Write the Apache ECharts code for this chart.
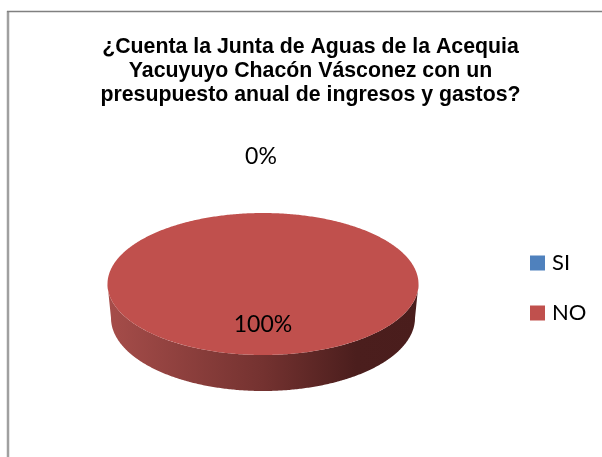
<!DOCTYPE html>
<html><head><meta charset="utf-8">
<style>html,body{margin:0;padding:0;background:#fff}#c{width:602px;height:457px}</style>
<script src="https://cdn.jsdelivr.net/npm/echarts@6/dist/echarts.min.js"></script>
</head><body><div id="c"></div>
<script>
const categories = ['SI', 'NO'];
const values = [0, 100];
const colors = ['#4f81bd', '#c0504d'];
const titleLines = ['¿Cuenta la Junta de Aguas de la Acequia', 'Yacuyuyo Chacón Vásconez con un', 'presupuesto anual de ingresos y gastos?'];

const total = values.reduce((a, b) => a + b, 0);
const CX = 263, CY = 284, RX = 155.5, RY = 71;
const BCY = 318, BRX = 152, BRY = 73;
const LABEL_FONT = '23px Lato, "Open Sans", sans-serif';

function pt(a, cx, cy, rx, ry) { return [cx + rx * Math.sin(a), cy - ry * Math.cos(a)]; }
function arc(a0, a1, cx, cy, rx, ry) {
  const n = Math.max(2, Math.ceil(Math.abs(a1 - a0) / 0.01)), out = [];
  for (let i = 0; i <= n; i++) out.push(pt(a0 + (a1 - a0) * i / n, cx, cy, rx, ry));
  return out;
}
function renderSlice(index) {
  return function () {
    const before = values.slice(0, index).reduce((a, b) => a + b, 0);
    const a0 = before / total * 2 * Math.PI;
    const a1 = (before + values[index]) / total * 2 * Math.PI;
    const mid = (a0 + a1) / 2;
    const pct = Math.round(values[index] / total * 100) + '%';
    const children = [];
    if (a1 > a0) {
      const s = Math.max(a0, Math.PI / 2), e = Math.min(a1, Math.PI * 3 / 2);
      if (e > s) {
        const pts = arc(s, e, CX, CY, RX, RY).concat(arc(e, s, CX, BCY, BRX, BRY));
        children.push({ type: 'polygon', shape: { points: pts }, style: {
          fill: new echarts.graphic.LinearGradient(0, 0, 1, 0, [
            { offset: 0, color: '#a64d4a' }, { offset: 0.5, color: '#743230' },
            { offset: 0.8, color: '#4b1e1d' }, { offset: 1, color: '#4a1d1c' }]) } });
      }
      const face = arc(a0, a1, CX, CY, RX, RY);
      if (a1 - a0 < 2 * Math.PI) face.push([CX, CY]);
      children.push({ type: 'polygon', shape: { points: face }, style: { fill: colors[index] } });
    }
    const inside = values[index] / total > 0.05;
    const p = inside ? pt(mid, CX, CY, RX * 0.55, RY * 0.57) : pt(mid, CX - 2, CY, RX, RY * 1.8);
    children.push({ type: 'text', z2: 10, style: { x: p[0], y: p[1], text: pct, font: LABEL_FONT,
      fill: '#000', align: 'center', verticalAlign: 'middle' } });
    return { type: 'group', children };
  };
}

const chart = echarts.init(document.getElementById('c'), null, { renderer: 'canvas' });
chart.setOption({
  animation: false,
  backgroundColor: '#fff',
  title: {
    text: titleLines.join('\n'), left: 305.5, top: 30, textAlign: 'center',
    textStyle: { fontFamily: '"Liberation Sans", Arial, sans-serif', fontWeight: 'bold', fontSize: 21.3, lineHeight: 24, color: '#000' }
  },
  legend: {
    data: categories, orient: 'vertical', left: 525, top: 247, itemWidth: 15, itemHeight: 15, itemGap: 28,
    icon: 'rect', textStyle: { fontFamily: 'Lato, "Open Sans", sans-serif', fontSize: 22, color: '#000', padding: [0, 0, 0, 2] }
  },
  graphic: [
    { type: 'line', silent: true, shape: { x1: 8, y1: 11, x2: 8, y2: 457 }, style: { stroke: '#a0a0a0', lineWidth: 2.5 } },
    { type: 'line', silent: true, shape: { x1: 7, y1: 11.5, x2: 602, y2: 11.5 }, style: { stroke: '#808080', lineWidth: 1.5 } }
  ],
  series: categories.map((name, i) => ({
    type: 'custom', name, coordinateSystem: 'none', data: [values[i]],
    itemStyle: { color: colors[i] }, renderItem: renderSlice(i), clip: false, silent: true
  }))
});
</script></body></html>
